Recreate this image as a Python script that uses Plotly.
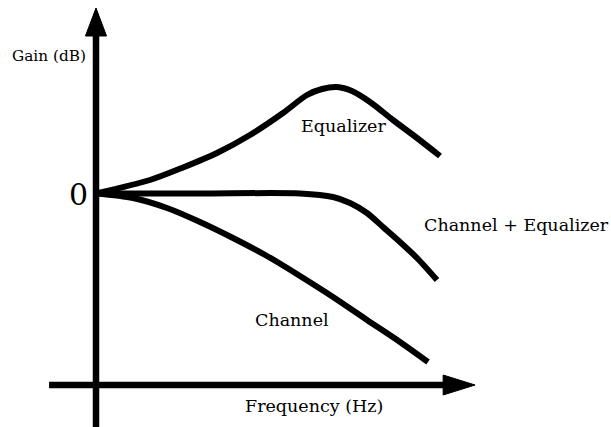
import plotly.graph_objects as go

# ---- data (arbitrary frequency units, gain in dB) ----
eq_f = [0, 1.588, 2.559, 3.559, 4.529, 5.500, 6.206, 6.647, 7.088, 7.529, 8.059, 8.735, 9.441, 10.118]
eq_g = [0, 1.35, 2.6, 4.05, 5.85, 8.05, 9.85, 10.45, 10.65, 10.25, 9.15, 7.35, 5.55, 3.75]

ce_f = [0, 3.059, 6.0, 6.971, 7.471, 7.971, 8.441, 8.941, 9.441, 10.029]
ce_g = [0, 0, 0, -0.35, -0.95, -1.95, -3.35, -4.85, -6.45, -8.65]

chan_f = [0, 1.088, 2.088, 3.059, 4.029, 5.029, 6.0, 6.971, 7.971, 8.941, 9.765]
chan_g = [0, -0.45, -1.45, -2.85, -4.45, -6.25, -8.25, -10.35, -12.65, -14.85, -16.85]

labels = ["Equalizer", "Channel + Equalizer", "Channel"]

W, H = 611, 427
FONT = "DejaVu Serif"

fig = go.Figure()
for fx, gy in [(eq_f, eq_g), (ce_f, ce_g), (chan_f, chan_g)]:
    fig.add_trace(go.Scatter(x=fx, y=gy, mode="lines",
                             line=dict(color="black", width=6, shape="spline", smoothing=0.8),
                             hoverinfo="skip", showlegend=False))

xr = [-2.8235, 15.147]
yr = [-23.35, 19.35]
x_axis_y = -19.15

shapes = [
    dict(type="line", x0=0, x1=0, y0=yr[0], y1=15.9, line=dict(color="black", width=6.5)),
    dict(type="path", path="M -0.31,15.75 L 0.31,15.75 L 0,18.55 Z",
         fillcolor="black", line=dict(color="black", width=1)),
    dict(type="line", x0=-1.38, x1=10.3, y0=x_axis_y, y1=x_axis_y, line=dict(color="black", width=6.5)),
    dict(type="path", path=f"M 10.21,{x_axis_y-1.0} L 10.21,{x_axis_y+1.0} L 11.15,{x_axis_y} Z",
         fillcolor="black", line=dict(color="black", width=1)),
]

def ann(text, px, py, size):
    return dict(text=text, x=px / W, y=1 - py / H, xref="paper", yref="paper",
                xanchor="center", yanchor="middle", showarrow=False,
                font=dict(family=FONT, size=size, color="black"))

annotations = [
    ann("Gain (dB)", 49, 56, 15.3),
    ann("0", 78, 194, 30),
    ann(labels[0], 343, 126, 17.5),
    ann(labels[1], 516, 225, 17.5),
    ann(labels[2], 292, 320, 17.5),
    ann("Frequency (Hz)", 314, 406, 17.5),
]

fig.update_layout(
    width=W, height=H, margin=dict(l=0, r=0, t=0, b=0),
    paper_bgcolor="white", plot_bgcolor="white",
    xaxis=dict(range=xr, visible=False, fixedrange=True),
    yaxis=dict(range=yr, visible=False, fixedrange=True),
    shapes=shapes, annotations=annotations,
)

fig.write_html("out.html", config={"displayModeBar": False},
               post_script="document.body.style.margin='0';document.body.style.overflow='hidden';")
